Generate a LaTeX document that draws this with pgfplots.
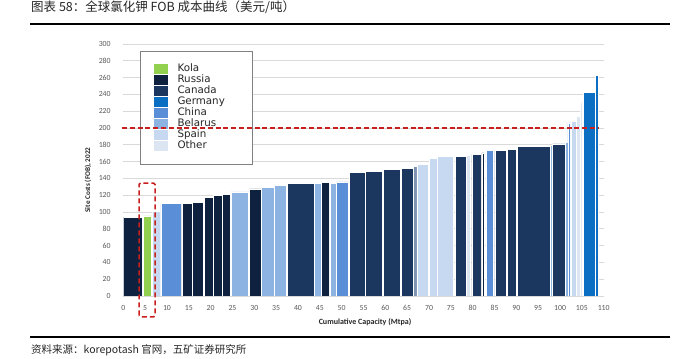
\documentclass[border=0pt]{standalone}
\usepackage{pgfplots}
\pgfplotsset{compat=1.18}
\usepackage{fontspec}
\setmainfont{Carlito}
\newfontfamily\cjk{Noto Sans CJK SC}
\newfontfamily\dejavu{DejaVu Sans}
\definecolor{cKola}{HTML}{92D050}
\definecolor{cRussia}{HTML}{0E2240}
\definecolor{cCanada}{HTML}{1B375F}
\definecolor{cGermany}{HTML}{0A6FC2}
\definecolor{cChina}{HTML}{5A8FD8}
\definecolor{cBelarus}{HTML}{8DB3E2}
\definecolor{cSpain}{HTML}{C6D9F0}
\definecolor{cOther}{HTML}{DCE6F2}
\definecolor{cSlate}{HTML}{7F93B0}
\definecolor{cRed}{HTML}{C81E1E}
\definecolor{tickgray}{HTML}{595959}
\newcommand{\br}[4]{\addplot[draw=white, line width=0.5pt, fill=#1, forget plot] coordinates {(#2,0) (#2,#4) (#3,#4) (#3,0)} \closedcycle;}
\newcommand{\lgd}[1]{\makebox[62pt][l]{#1}}
\begin{document}
\begin{tikzpicture}
\path[use as bounding box] (0,0) rectangle (678pt,359pt);
\node[anchor=west, inner sep=0pt, font=\cjk\fontsize{12.5}{14}\selectfont, text=black!85] at (31pt,351.5pt) {图表 58：全球氯化钾 FOB 成本曲线（美元/吨）};
\draw[line width=1.2pt] (30pt,335pt) -- (670pt,335pt);
\draw[line width=1.2pt] (30pt,22pt) -- (670pt,22pt);
\node[anchor=west, inner sep=0pt, font=\cjk\fontsize{10.5}{12}\selectfont, text=black!85] at (31pt,9pt) {资料来源：korepotash 官网，五矿证券研究所};
\begin{axis}[
  at={(123.3pt,63pt)}, anchor=south west, scale only axis,
  width=480.4pt, height=252pt,
  xmin=0, xmax=110, ymin=0, ymax=300,
  xtick={0,5,...,110}, ytick={0,20,...,300},
  axis lines=left, axis line style={draw=none}, tick style={draw=none},
  ymajorgrids, grid style={draw=black!15, line width=0.6pt},
  ticklabel style={font=\fontsize{7.8}{8}\selectfont, text=tickgray},
  yticklabel style={xshift=-7pt},
  xticklabel style={yshift=-4pt},
  /pgf/number format/assume math mode=true,
  legend style={at={(0.035,0.972)}, anchor=north west, draw=black!50, line width=0.8pt, fill=white,
    font=\dejavu\fontsize{10.3}{11}\selectfont, text=black!85, inner xsep=13pt, inner ysep=13pt,
    row sep=1pt, column sep=10pt, nodes={inner sep=0pt, text height=7.5pt, text depth=2.5pt}},
  legend cell align=left,
  legend image code/.code={\fill[#1, draw=none] (0pt,-4.5pt) rectangle (14pt,5pt);},
]
\br{cRussia}{0}{4.4}{94}
\br{cKola}{4.6}{6.5}{95.5}
\br{cSpain}{6.6}{8.5}{101}
\br{cChina}{8.6}{13.3}{110}
\br{cRussia}{13.4}{15.8}{110}
\br{cRussia}{15.9}{18.4}{111.5}
\br{cRussia}{18.5}{20.5}{117}
\br{cRussia}{20.6}{22.6}{119.5}
\br{cRussia}{22.7}{24.6}{121}
\br{cBelarus}{24.7}{28.7}{124}
\br{cRussia}{28.8}{31.6}{127.5}
\br{cBelarus}{31.7}{34.5}{129.5}
\br{cBelarus}{34.6}{37.4}{131.5}
\br{cCanada}{37.5}{43.7}{134}
\br{cBelarus}{43.8}{45.3}{134}
\br{cRussia}{45.4}{47.2}{135}
\br{cBelarus}{47.3}{48.7}{134}
\br{cChina}{48.8}{51.5}{136}
\br{cCanada}{51.7}{55.3}{147}
\br{cCanada}{55.5}{59.2}{148}
\br{cCanada}{59.5}{63.5}{150.5}
\br{cCanada}{63.7}{66.4}{152}
\br{cSlate}{66.5}{67.2}{154}
\br{cSpain}{67.2}{69.8}{157}
\br{cSpain}{70.0}{71.8}{164}
\br{cSpain}{72.0}{75.6}{166.5}
\br{cCanada}{76.0}{78.5}{166}
\br{cOther}{78.6}{79.5}{167.5}
\br{cCanada}{79.8}{81.9}{168.5}
\br{cRussia}{82.1}{82.7}{170.5}
\br{cChina}{83.1}{84.7}{173}
\br{cCanada}{85.1}{87.6}{173}
\br{cCanada}{87.9}{89.9}{174.5}
\br{cCanada}{90.3}{97.8}{178.5}
\br{cBelarus}{97.8}{98.3}{179}
\br{cCanada}{98.3}{101.1}{181}
\br{cBelarus}{101.3}{101.8}{182.5}
\br{cChina}{101.8}{102.4}{206}
\br{cSpain}{102.5}{103.6}{208}
\br{cOther}{103.7}{104.6}{214}
\br{cOther}{104.6}{105.2}{231}
\br{cGermany}{105.3}{108.0}{242}
\br{cGermany}{108.1}{108.8}{263}
\addlegendimage{fill=cKola}\addlegendentry{\lgd{Kola}}
\addlegendimage{fill=cRussia}\addlegendentry{\lgd{Russia}}
\addlegendimage{fill=cCanada}\addlegendentry{\lgd{Canada}}
\addlegendimage{fill=cGermany}\addlegendentry{\lgd{Germany}}
\addlegendimage{fill=cChina}\addlegendentry{\lgd{China}}
\addlegendimage{fill=cBelarus}\addlegendentry{\lgd{Belarus}}
\addlegendimage{fill=cSpain}\addlegendentry{\lgd{Spain}}
\addlegendimage{fill=cOther}\addlegendentry{\lgd{Other}}
\end{axis}
\begin{axis}[
  at={(123.3pt,63pt)}, anchor=south west, scale only axis,
  width=480.4pt, height=252pt,
  xmin=0, xmax=110, ymin=0, ymax=300,
  hide axis, clip=false,
]
\addplot[cRed, line width=1.3pt, dash pattern=on 5pt off 2.8pt] coordinates {(-0.3,200) (109,200)};
\addplot[cRed, line width=1.5pt, dash pattern=on 5pt off 3pt, rounded corners=1.5pt] coordinates {(3.6,-25) (3.6,134.5) (7.26,134.5) (7.26,-25)} -- cycle;
\end{axis}
\node[rotate=90, font=\bfseries\fontsize{7.2}{8}\selectfont, text=black!85] at (88pt,179pt) {Site Costs (FOB), 2022};
\node[font=\bfseries\fontsize{8}{9}\selectfont, text=black!85] at (365pt,37pt) {Cumulative Capacity (Mtpa)};
\end{tikzpicture}
\end{document}
